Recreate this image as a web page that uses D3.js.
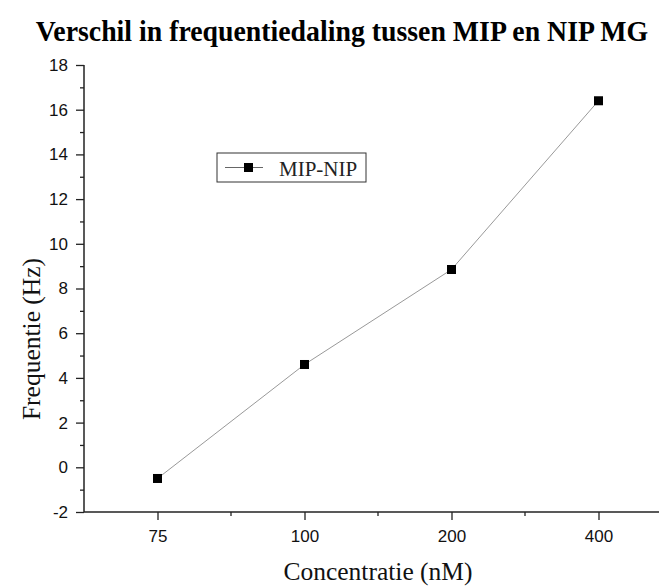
<!DOCTYPE html>
<html>
<head>
<meta charset="utf-8">
<script src="https://cdn.jsdelivr.net/npm/d3@7"></script>
<style>
  html, body { margin: 0; padding: 0; background: #fff; }
  svg { display: block; }
</style>
</head>
<body>
<svg id="chart" width="659" height="586"></svg>
<script>
const categories = ["75", "100", "200", "400"];
const values = [-0.5, 4.6, 8.85, 16.4];
const yTicks = [-2, 0, 2, 4, 6, 8, 10, 12, 14, 16, 18];
const yMinorTicks = [-1, 1, 3, 5, 7, 9, 11, 13, 15, 17];
const seriesName = "MIP-NIP";
const title = "Verschil in frequentiedaling tussen MIP en NIP MG";
const xLabel = "Concentratie (nM)";
const yLabel = "Frequentie (Hz)";

(function () {
const svg = d3.select("#chart");
const plotL = 84, plotR = 672, plotT = 65, plotB = 512;

const x = d3.scalePoint().domain(categories).range([plotL, plotR]).padding(0.5);
const y = d3.scaleLinear().domain([-2, 18]).range([plotB, plotT]);
const step = x.step();

const sans = "'Liberation Sans', Arial, sans-serif";
const serif = "'Liberation Serif', 'Times New Roman', serif";

// Title (slightly tall glyphs like the reference)
svg.append("text")
  .attr("transform", "translate(342,41) scale(1.07,1.15)")
  .attr("text-anchor", "middle")
  .attr("font-family", serif).attr("font-weight", "bold")
  .attr("font-size", 26)
  .text(title);

// Y axis
const yAxis = d3.axisLeft(y).tickValues(yTicks).tickSize(8).tickPadding(8).tickFormat(d3.format("d"));
const gy = svg.append("g").attr("transform", `translate(${plotL},0)`).call(yAxis);
gy.select(".domain").attr("stroke", "#222").attr("stroke-width", 1.5).attr("d", `M0,${plotT}V${plotB}`);
gy.selectAll(".tick line").attr("stroke", "#222").attr("stroke-width", 1.3);
gy.selectAll(".tick text").attr("font-family", sans).attr("font-size", 17).attr("fill", "#111")
  .text(d => d < 0 ? "-" + Math.abs(d) : d);
const gyMinor = svg.append("g").attr("transform", `translate(${plotL},0)`)
  .call(d3.axisLeft(y).tickValues(yMinorTicks).tickSize(4).tickFormat(""));
gyMinor.select(".domain").remove();
gyMinor.selectAll(".tick line").attr("stroke", "#222").attr("stroke-width", 1.3);

// X axis
const xAxis = d3.axisBottom(x).tickSize(8).tickPadding(10);
const gx = svg.append("g").attr("transform", `translate(0,${plotB})`).call(xAxis);
gx.select(".domain").attr("stroke", "#222").attr("stroke-width", 1.5).attr("d", `M${plotL},0H${plotR}`);
gx.selectAll(".tick line").attr("stroke", "#222").attr("stroke-width", 1.3);
gx.selectAll(".tick text").attr("font-family", sans).attr("font-size", 17).attr("fill", "#111");
// minor ticks between categories
const minorX = categories.slice(0, -1).map(c => x(c) + step / 2);
svg.append("g").selectAll("line").data(minorX).join("line")
  .attr("x1", d => d).attr("x2", d => d)
  .attr("y1", plotB).attr("y2", plotB + 4)
  .attr("stroke", "#222").attr("stroke-width", 1.3);

// Axis labels
svg.append("text")
  .attr("x", 378).attr("y", 580)
  .attr("text-anchor", "middle")
  .attr("font-family", serif).attr("font-size", 25.5).attr("fill", "#111")
  .text(xLabel);
svg.append("text")
  .attr("transform", `translate(40,339) rotate(-90)`)
  .attr("text-anchor", "middle")
  .attr("font-family", serif).attr("font-size", 25.5).attr("fill", "#111")
  .text(yLabel);

// Line
const line = d3.line().x((d, i) => x(categories[i])).y(d => y(d));
svg.append("path").datum(values)
  .attr("d", line).attr("fill", "none")
  .attr("stroke", "#999").attr("stroke-width", 1);

// Markers
const ms = 9;
svg.append("g").selectAll("rect").data(values).join("rect")
  .attr("x", (d, i) => x(categories[i]) - ms / 2)
  .attr("y", d => y(d) - ms / 2)
  .attr("width", ms).attr("height", ms)
  .attr("fill", "#000");

// Legend
const lg = svg.append("g");
lg.append("rect").attr("x", 217).attr("y", 153).attr("width", 149).attr("height", 29)
  .attr("fill", "none").attr("stroke", "#333").attr("stroke-width", 1);
lg.append("line").attr("x1", 225).attr("x2", 263).attr("y1", 167.5).attr("y2", 167.5)
  .attr("stroke", "#666").attr("stroke-width", 1);
lg.append("rect").attr("x", 244).attr("y", 163).attr("width", ms).attr("height", ms).attr("fill", "#000");
lg.append("text").attr("x", 279).attr("y", 176)
  .attr("font-family", serif).attr("font-size", 21).attr("fill", "#222")
  .text(seriesName);
})();
</script>
</body>
</html>
